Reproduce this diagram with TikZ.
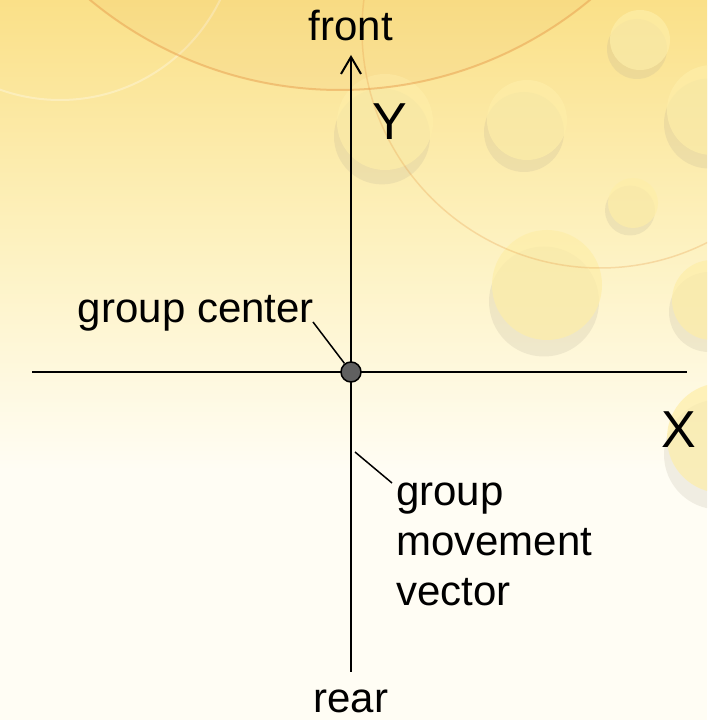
\documentclass[tikz,border=0pt]{standalone}
\usepackage{fontspec}
\setmainfont{Liberation Sans}
\usetikzlibrary{arrows.meta}
\definecolor{bgtop}{RGB}{250,224,136}
\definecolor{bgmid}{RGB}{253,241,190}
\definecolor{bglow}{RGB}{255,253,244}
\definecolor{ringc}{RGB}{232,158,78}
\definecolor{bubble}{RGB}{254,238,168}
\definecolor{shadowc}{RGB}{175,165,145}
\definecolor{dotc}{RGB}{96,96,96}

\begin{document}
\begin{tikzpicture}[x=1pt, y=1pt,
    every node/.style={font=\fontsize{42}{50}\selectfont, inner sep=0pt},
    axis/.style={draw=black, line width=2pt},
    leader/.style={draw=black, line width=1.5pt},
    axlbl/.style={font=\fontsize{52}{60}\selectfont},
    hub/.style={circle, draw=black, fill=dotc, line width=1.5pt,
        minimum size=20pt, inner sep=0pt},
    ring/.style={draw=ringc, line width=2pt},
    bub/.style={fill=bubble, opacity=0.7},
    bubshadow/.style={fill=shadowc, opacity=0.18}
]
\useasboundingbox (0,0) rectangle (707,720);
% background of the slide
\begin{scope}
\clip (0,0) rectangle (707,720);
\fill[bglow] (0,0) rectangle (707,720);
\shade[top color=bgtop, bottom color=bglow, middle color=bgmid]
    (0,250) rectangle (707,720);
\draw[white, opacity=0.3, line width=2pt] (60,798) circle (178);
\foreach \cx/\cy/\r in {385/598/48, 527/600/40, 640/680/30, 633/517/25,
    547/435/55, 712/610/45, 712/420/40, 722/282/55}
{
    \fill[bubshadow] (\cx-3,\cy-0.3*\r) circle (\r);
    \fill[bub] (\cx,\cy) circle (\r);
}
\fill[ringc, opacity=0.07] (340,1022) circle (392);
\draw[ring, opacity=0.5] (340,1022) circle (392);
\draw[ring, opacity=0.3, line width=1.5pt] (600,690) circle (238);
\end{scope}

\coordinate (xl) at (32,348);
\coordinate (xr) at (687,348);
\coordinate (yb) at (351,48);
\coordinate (yt) at (351,665);
\draw[axis] (xl) -- (xr);
\draw[axis, -{Straight Barb[length=17pt, width=20pt]}] (yb) -- (yt);
\node[hub] (gc) at (351,348) {};

\node[anchor=base] (front) at (351,679) {front};
\node[anchor=base] (rear) at (351,8) {rear};
\node[axlbl, anchor=base] (ylbl) at (390,580) {Y};
\node[axlbl, anchor=base] (xlbl) at (679,272) {X};
\node[anchor=base east] (gclbl) at (314,397) {group center};
\node[anchor=base west, align=left] (mvlbl) at (396,114)
    {group\\movement\\vector};

\coordinate (gctick) at (313,398);
\coordinate (mvtick) at (355,268);
\coordinate (mvend) at (392,237);
\draw[leader] (gctick) -- (gc);
\draw[leader] (mvtick) -- (mvend);
\end{tikzpicture}
\end{document}
